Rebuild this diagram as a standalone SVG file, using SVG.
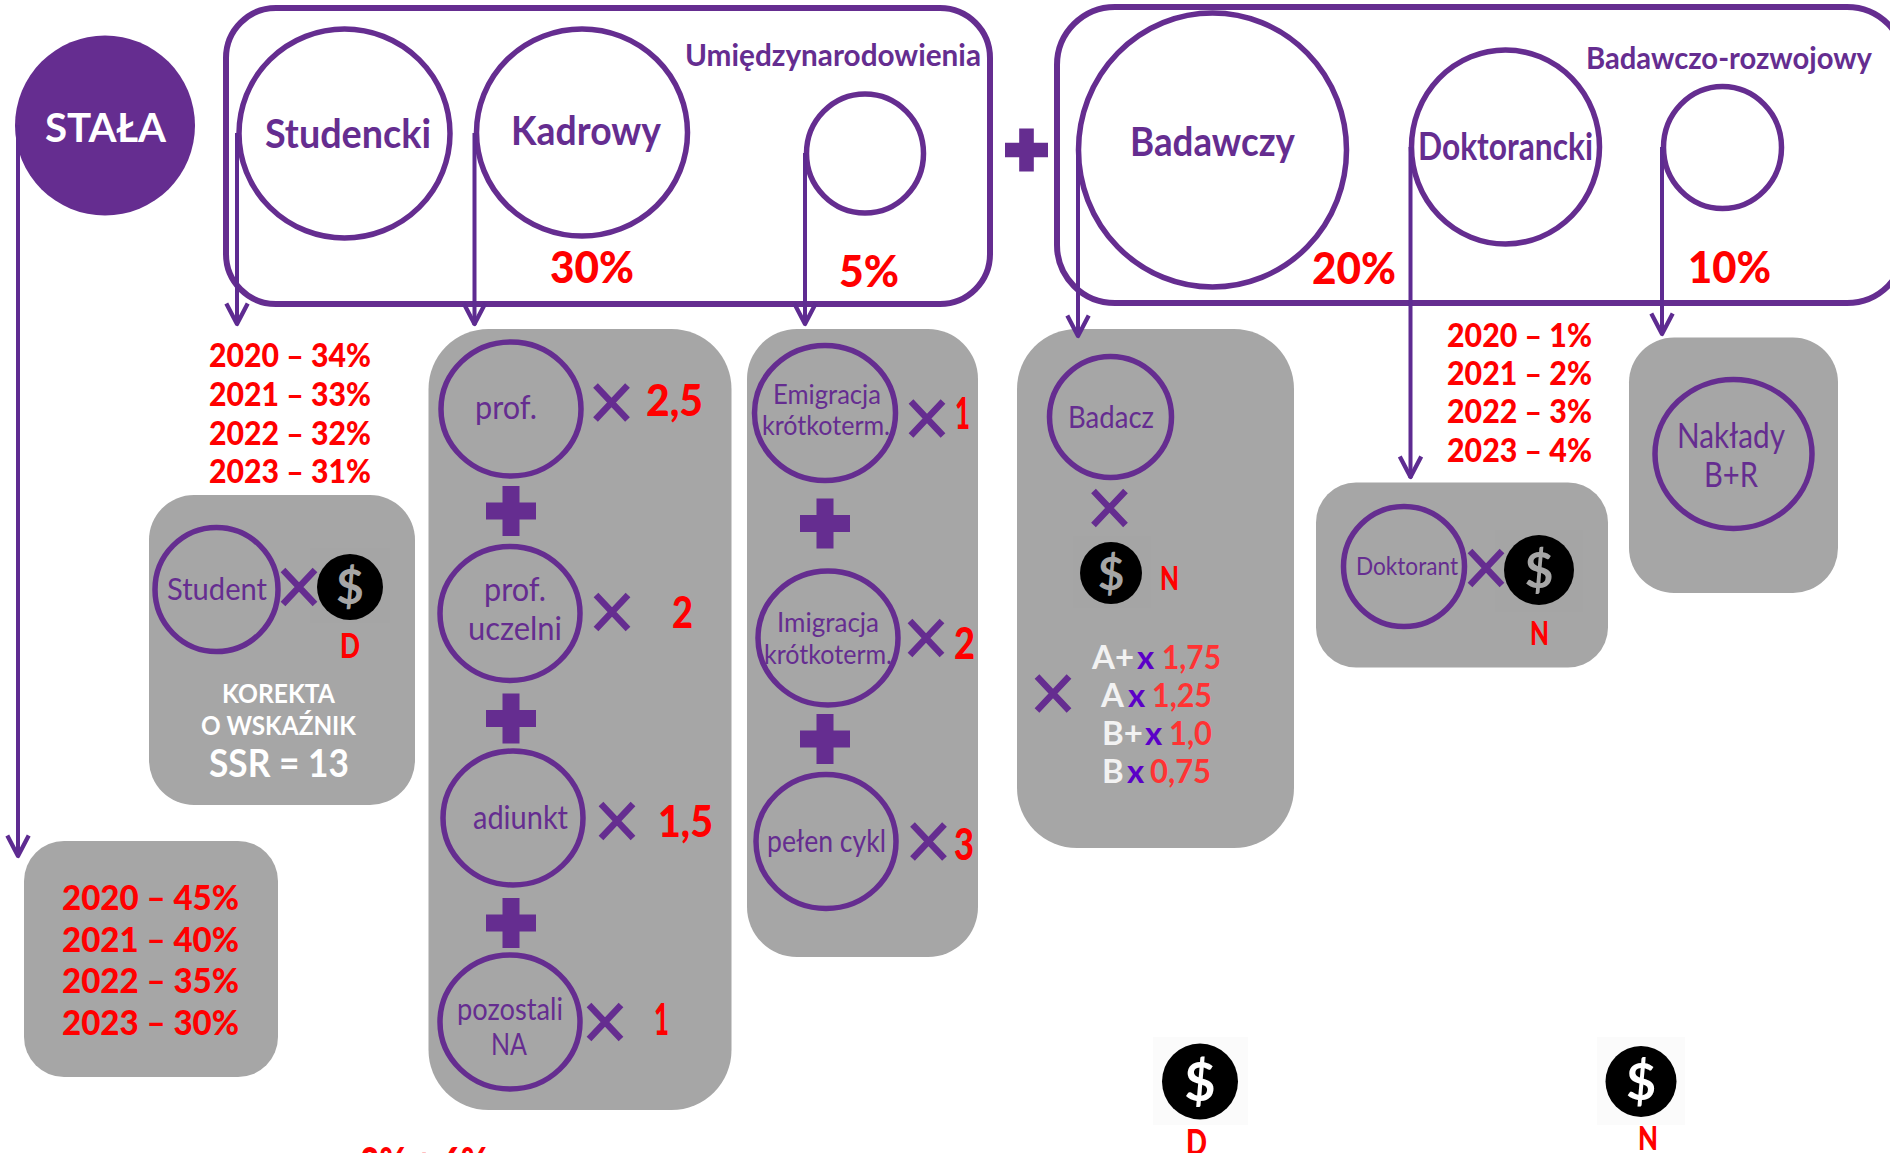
<svg xmlns="http://www.w3.org/2000/svg" width="1890" height="1153" viewBox="0 0 1890 1153">
<style>
text{font-family:"Lato","Open Sans","Liberation Sans",sans-serif}
.b{font-weight:700}
.p{fill:#652d90}
.r{fill:#ff0000;font-weight:900}
.w{fill:#ffffff}
.l{fill:#652d90;font-weight:400}
.ring{fill:none;stroke:#652d90;stroke-width:5.500}
.frame{fill:none;stroke:#652d90;stroke-width:6}
.panel{fill:#a6a6a6}
.arrow{fill:none;stroke:#5e2b91;stroke-width:4;marker-end:url(#head)}
.tm{fill:none;stroke:#652d90;stroke-width:6.500}
.plus{fill:#652d90}
.ltw{fill:#f2f2f2}
.ltx{fill:#5b00c8}
.ltr{fill:#ff3333}
</style>
<defs>
<marker id="head" markerUnits="userSpaceOnUse" markerWidth="30" markerHeight="30" refX="20" refY="0" orient="auto" overflow="visible" viewBox="-2 -14 26 28">
<path d="M0 -10 L19 0 L0 10" fill="none" stroke="#5e2b91" stroke-width="4" stroke-linejoin="round"/>
</marker>
<path id="times" class="tm" d="M-16 -17 L16 17 M16 -17 L-16 17"/>
<path id="cross" class="plus" d="M-8.500 -25h17v16.500h16.500v17h-16.500v16.500h-17v-16.500h-16.500v-17h16.500z"/>
</defs>

<g id="frame-umiedzynarodowienia">
<rect class="frame" x="226" y="8" width="764" height="296" rx="50"/>
<text class="p b" x="685" y="66" font-size="30" textLength="296" lengthAdjust="spacingAndGlyphs">Umiędzynarodowienia</text>
</g>
<g id="frame-badawczo-rozwojowy">
<rect class="frame" x="1057" y="7" width="848" height="296" rx="58"/>
<text class="p b" x="1586" y="69" font-size="30" textLength="286" lengthAdjust="spacingAndGlyphs">Badawczo-rozwojowy</text>
</g>

<g id="node-stala">
<circle cx="105" cy="125.500" r="90" fill="#652d90"/>
<text class="w b" x="45" y="142" font-size="41" textLength="121" lengthAdjust="spacingAndGlyphs">STAŁA</text>
</g>
<g id="node-studencki">
<ellipse class="ring" cx="344.500" cy="133.500" rx="105.500" ry="104.500"/>
<text class="p b" x="265" y="148" font-size="41" textLength="166" lengthAdjust="spacingAndGlyphs">Studencki</text>
</g>
<g id="node-kadrowy">
<ellipse class="ring" cx="582" cy="132.500" rx="105.500" ry="103.500"/>
<text class="p b" x="511" y="145" font-size="41" textLength="150" lengthAdjust="spacingAndGlyphs">Kadrowy</text>
<text class="r" x="550" y="283" font-size="43" textLength="84" lengthAdjust="spacingAndGlyphs">30%</text>
</g>
<g id="node-umiedzynarodowienie">
<ellipse class="ring" cx="865" cy="153.500" rx="58.500" ry="59.500"/>
<text class="r" x="839" y="287" font-size="43" textLength="60" lengthAdjust="spacingAndGlyphs">5%</text>
</g>
<g id="node-plus">
<use href="#cross" transform="translate(1026.500 150) scale(.86)"/>
</g>
<g id="node-badawczy">
<ellipse class="ring" cx="1212.500" cy="150" rx="134" ry="137"/>
<text class="p b" x="1130" y="156" font-size="41" textLength="165" lengthAdjust="spacingAndGlyphs">Badawczy</text>
<text class="r" x="1312" y="284" font-size="43" textLength="84" lengthAdjust="spacingAndGlyphs">20%</text>
</g>
<g id="node-doktorancki">
<ellipse class="ring" cx="1505.500" cy="147" rx="94" ry="97"/>
<text class="p b" x="1418" y="160" font-size="38" textLength="175" lengthAdjust="spacingAndGlyphs">Doktorancki</text>
</g>
<g id="node-badawczo-rozwojowy">
<ellipse class="ring" cx="1722.500" cy="147.500" rx="59" ry="61"/>
<text class="r" x="1688" y="283" font-size="43" textLength="83" lengthAdjust="spacingAndGlyphs">10%</text>
</g>

<g id="panel-stala">
<rect class="panel" x="24" y="841" width="254" height="236" rx="40"/>
<g font-size="35">
<text class="r" x="62" y="910" textLength="177" lengthAdjust="spacingAndGlyphs">2020 – 45%</text>
<text class="r" x="62" y="952" textLength="177" lengthAdjust="spacingAndGlyphs">2021 – 40%</text>
<text class="r" x="62" y="993" textLength="177" lengthAdjust="spacingAndGlyphs">2022 – 35%</text>
<text class="r" x="62" y="1035" textLength="177" lengthAdjust="spacingAndGlyphs">2023 – 30%</text>
</g>
</g>

<g id="years-student" font-size="33">
<text class="r" x="209" y="367" textLength="162" lengthAdjust="spacingAndGlyphs">2020 – 34%</text>
<text class="r" x="209" y="406" textLength="162" lengthAdjust="spacingAndGlyphs">2021 – 33%</text>
<text class="r" x="209" y="445" textLength="162" lengthAdjust="spacingAndGlyphs">2022 – 32%</text>
<text class="r" x="209" y="483" textLength="162" lengthAdjust="spacingAndGlyphs">2023 – 31%</text>
</g>
<g id="panel-student">
<rect class="panel" x="149" y="495" width="266" height="310" rx="45"/>
<ellipse class="ring" cx="216.500" cy="589.500" rx="61.500" ry="62"/>
<text class="l" x="167" y="600" font-size="30" textLength="100" lengthAdjust="spacingAndGlyphs">Student</text>
<rect x="310" y="548" width="80" height="75" fill="#a5a5a5"/>
<use href="#times" x="299" y="587"/>
<circle cx="350" cy="587" r="33" fill="#000"/>
<text class="b" x="350" y="604" font-size="48" text-anchor="middle" fill="#a6a6a6">$</text>
<text class="r" x="340" y="658" font-size="35" textLength="20" lengthAdjust="spacingAndGlyphs">D</text>
<text class="w b" x="222" y="703" font-size="27" textLength="113" lengthAdjust="spacingAndGlyphs">KOREKTA</text>
<text class="w b" x="201" y="735" font-size="27" textLength="155" lengthAdjust="spacingAndGlyphs">O WSKAŹNIK</text>
<text class="w b" x="209" y="777" font-size="38" textLength="140" lengthAdjust="spacingAndGlyphs">SSR = 13</text>
</g>

<g id="panel-kadrowy">
<rect class="panel" x="428.500" y="329" width="303" height="781" rx="60"/>
<g id="node-prof">
<ellipse class="ring" cx="511" cy="409" rx="70" ry="67"/>
<text class="l" x="475" y="419" font-size="33" textLength="62" lengthAdjust="spacingAndGlyphs">prof.</text>
<use href="#times" x="611.500" y="402.500"/>
<text class="r" x="646" y="416" font-size="43" textLength="57" lengthAdjust="spacingAndGlyphs">2,5</text>
</g>
<use href="#cross" x="511" y="511"/>
<g id="node-prof-uczelni">
<ellipse class="ring" cx="510" cy="613.500" rx="70" ry="67"/>
<text class="l" x="484" y="601" font-size="33" textLength="62" lengthAdjust="spacingAndGlyphs">prof.</text>
<text class="l" x="468" y="640" font-size="33" textLength="94" lengthAdjust="spacingAndGlyphs">uczelni</text>
<use href="#times" x="612" y="612"/>
<text class="r" x="672" y="628" font-size="43" textLength="21" lengthAdjust="spacingAndGlyphs">2</text>
</g>
<use href="#cross" x="511" y="718.500"/>
<g id="node-adiunkt">
<ellipse class="ring" cx="513" cy="818" rx="70" ry="67"/>
<text class="l" x="473" y="829" font-size="33" textLength="95" lengthAdjust="spacingAndGlyphs">adiunkt</text>
<use href="#times" x="617" y="821"/>
<text class="r" x="658" y="837" font-size="43" textLength="55" lengthAdjust="spacingAndGlyphs">1,5</text>
</g>
<use href="#cross" x="511" y="923"/>
<g id="node-pozostali">
<ellipse class="ring" cx="510" cy="1022" rx="70" ry="67"/>
<text class="l" x="457" y="1020" font-size="30" textLength="106" lengthAdjust="spacingAndGlyphs">pozostali</text>
<text class="l" x="491" y="1055" font-size="30" textLength="36" lengthAdjust="spacingAndGlyphs">NA</text>
<use href="#times" x="605" y="1022"/>
<text class="r" x="654" y="1035" font-size="43" textLength="15" lengthAdjust="spacingAndGlyphs">1</text>
</g>
</g>

<g id="panel-mobilnosc">
<rect class="panel" x="747" y="329" width="231" height="628" rx="50"/>
<g id="node-emigracja">
<ellipse class="ring" cx="825" cy="413" rx="70.500" ry="67.500"/>
<text class="l" x="773" y="404" font-size="27" textLength="108" lengthAdjust="spacingAndGlyphs">Emigracja</text>
<text class="l" x="762" y="435" font-size="27" textLength="128" lengthAdjust="spacingAndGlyphs">krótkoterm.</text>
<use href="#times" x="927" y="418.500"/>
<text class="r" x="955" y="429" font-size="43" textLength="15" lengthAdjust="spacingAndGlyphs">1</text>
</g>
<use href="#cross" x="825" y="523.500"/>
<g id="node-imigracja">
<ellipse class="ring" cx="828" cy="638" rx="70" ry="67"/>
<text class="l" x="777" y="632" font-size="27" textLength="102" lengthAdjust="spacingAndGlyphs">Imigracja</text>
<text class="l" x="764" y="664" font-size="27" textLength="128" lengthAdjust="spacingAndGlyphs">krótkoterm.</text>
<use href="#times" x="926" y="638"/>
<text class="r" x="954" y="658.500" font-size="43" textLength="21" lengthAdjust="spacingAndGlyphs">2</text>
</g>
<use href="#cross" x="825" y="739"/>
<g id="node-pelen-cykl">
<ellipse class="ring" cx="826" cy="841.500" rx="70" ry="67"/>
<text class="l" x="767" y="852" font-size="30" textLength="119" lengthAdjust="spacingAndGlyphs">pełen cykl</text>
<use href="#times" x="928.500" y="841.500"/>
<text class="r" x="954" y="860" font-size="43" textLength="20" lengthAdjust="spacingAndGlyphs">3</text>
</g>
</g>

<g id="panel-badacz">
<rect class="panel" x="1017" y="329" width="277" height="519" rx="60"/>
<ellipse class="ring" cx="1110.500" cy="417" rx="61" ry="60.500"/>
<text class="l" x="1068" y="428" font-size="30" textLength="86" lengthAdjust="spacingAndGlyphs">Badacz</text>
<use href="#times" x="1109.500" y="508"/>
<rect x="1073" y="536" width="78" height="72" fill="#a5a5a5"/>
<circle cx="1111" cy="573" r="31" fill="#000"/>
<text class="b" x="1111" y="590" font-size="46" text-anchor="middle" fill="#a6a6a6">$</text>
<text class="r" x="1160" y="590" font-size="33" textLength="19" lengthAdjust="spacingAndGlyphs">N</text>
<use href="#times" x="1053" y="693.500"/>
<g class="b" font-size="33">
<text><tspan class="ltw" x="1092" y="669">A+</tspan><tspan class="ltx" x="1137" y="669">x</tspan><tspan class="ltr" x="1162" y="669" textLength="59" lengthAdjust="spacingAndGlyphs">1,75</tspan></text>
<text><tspan class="ltw" x="1101" y="707">A</tspan><tspan class="ltx" x="1128" y="707">x</tspan><tspan class="ltr" x="1152" y="707" textLength="60" lengthAdjust="spacingAndGlyphs">1,25</tspan></text>
<text><tspan class="ltw" x="1102" y="745">B+</tspan><tspan class="ltx" x="1145" y="745">x</tspan><tspan class="ltr" x="1169" y="745" textLength="43" lengthAdjust="spacingAndGlyphs">1,0</tspan></text>
<text><tspan class="ltw" x="1102" y="783">B</tspan><tspan class="ltx" x="1127" y="783">x</tspan><tspan class="ltr" x="1150" y="783" textLength="61" lengthAdjust="spacingAndGlyphs">0,75</tspan></text>
</g>
</g>

<g id="years-doktorant" font-size="33">
<text class="r" x="1447" y="347" textLength="145" lengthAdjust="spacingAndGlyphs">2020 – 1%</text>
<text class="r" x="1447" y="385" textLength="145" lengthAdjust="spacingAndGlyphs">2021 – 2%</text>
<text class="r" x="1447" y="423" textLength="145" lengthAdjust="spacingAndGlyphs">2022 – 3%</text>
<text class="r" x="1447" y="462" textLength="145" lengthAdjust="spacingAndGlyphs">2023 – 4%</text>
</g>
<g id="panel-doktorant">
<rect class="panel" x="1316" y="482.500" width="292" height="185" rx="40"/>
<ellipse class="ring" cx="1404" cy="566.500" rx="60.500" ry="60"/>
<text class="l" x="1356" y="575" font-size="25" textLength="102" lengthAdjust="spacingAndGlyphs">Doktorant</text>
<rect x="1495" y="530" width="88" height="82" fill="#a5a5a5"/>
<use href="#times" x="1486" y="568"/>
<circle cx="1539" cy="570" r="35" fill="#000"/>
<text class="b" x="1539" y="588" font-size="50" text-anchor="middle" fill="#a6a6a6">$</text>
<text class="r" x="1530" y="645" font-size="33" textLength="19" lengthAdjust="spacingAndGlyphs">N</text>
</g>

<g id="panel-naklady">
<rect class="panel" x="1629" y="337.500" width="209" height="255.500" rx="45"/>
<ellipse class="ring" cx="1733.500" cy="454" rx="78.500" ry="74.500"/>
<text class="l" x="1677" y="448" font-size="35" textLength="108" lengthAdjust="spacingAndGlyphs">Nakłady</text>
<text class="l" x="1704" y="487" font-size="35" textLength="54" lengthAdjust="spacingAndGlyphs">B+R</text>
</g>

<g id="coin-d">
<rect x="1153" y="1037" width="95" height="88" fill="#fbfbfb"/>
<circle cx="1200" cy="1081.500" r="38" fill="#000"/>
<text class="b" x="1200" y="1101" font-size="54" text-anchor="middle" fill="#fff">$</text>
<text class="r" x="1186" y="1155" font-size="36" textLength="21" lengthAdjust="spacingAndGlyphs">D</text>
</g>
<g id="coin-n">
<rect x="1597" y="1037" width="88" height="88" fill="#fbfbfb"/>
<circle cx="1641" cy="1081.500" r="35.500" fill="#000"/>
<text class="b" x="1641" y="1100" font-size="52" text-anchor="middle" fill="#fff">$</text>
<text class="r" x="1638" y="1150" font-size="33" textLength="20" lengthAdjust="spacingAndGlyphs">N</text>
</g>
<g id="note">
<text class="r" x="360" y="1179" font-size="44" textLength="128" lengthAdjust="spacingAndGlyphs">3% + 6%</text>
</g>

<g id="connectors">
<path class="arrow" d="M18 125V857"/>
<path class="arrow" d="M237 133V325"/>
<path class="arrow" d="M474.500 133V325"/>
<path class="arrow" d="M805 153V325"/>
<path class="arrow" d="M1078 150V337"/>
<path class="arrow" d="M1410.500 147V478"/>
<path class="arrow" d="M1662 147V335"/>
</g>
</svg>
